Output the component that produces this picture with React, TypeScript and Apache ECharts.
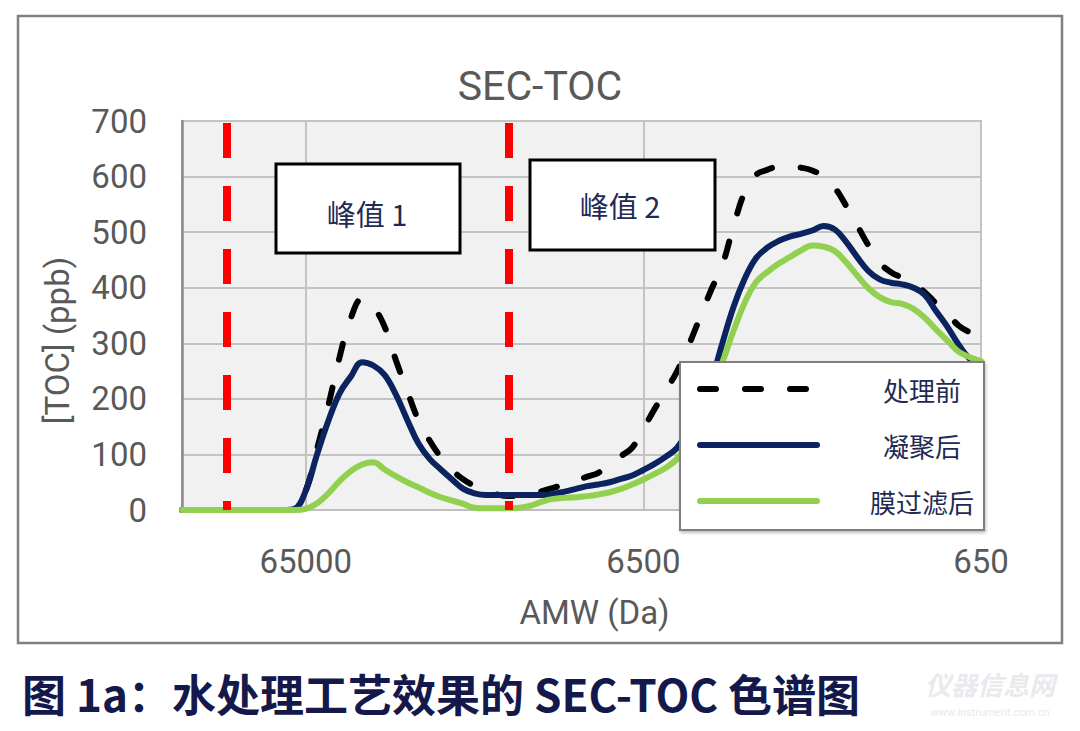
import React, { useEffect, useRef } from 'react';
import * as echarts from 'echarts';

// Apparent molecular weight (Da), ordered as eluted (high -> low)
const amwCategories = [
  151000, 140000, 130000, 120000, 111000, 103000, 95400, 88400, 81800, 75800,
  70200, 65000, 60200, 55800, 51600, 47800, 44300, 41000, 38000, 35200,
  32600, 30200, 27900, 25900, 24000, 22200, 20600, 19000, 17600, 16300,
  15100, 14000, 13000, 12000, 11100, 10300, 9540, 8840, 8180, 7580,
  7020, 6500, 6020, 5580, 5160, 4780, 4430, 4100, 3800, 3520,
  3260, 3020, 2790, 2590, 2400, 2220, 2060, 1900, 1760, 1630,
  1510, 1400, 1300, 1200, 1110, 1030, 954, 884, 818, 758,
  702, 650,
];
const xTickLabels = ['65000', '6500', '650'];
const peakBoundaries = ['111000', '16300'];
const seriesNames = ['处理前', '凝聚后', '膜过滤后'];

const beforeTreatment = [
  0, 0, 0, 0, 0, 0, 0, 0, 0, 0,
  2, 35, 110, 188, 275, 345, 380, 365, 330, 270,
  215, 162, 125, 95, 72, 55, 43, 34, 28, 25,
  25, 28, 34, 40, 46, 53, 60, 67, 83, 97,
  112, 146, 182, 215, 250, 295, 345, 395, 440, 510,
  572, 603, 612, 618, 618, 616, 611, 600, 580, 548,
  512, 476, 445, 428, 418, 408, 392, 372, 354, 332,
  320, 314,
];
const afterCoagulation = [
  0, 0, 0, 0, 0, 0, 0, 0, 0, 0,
  2, 35, 100, 160, 210, 240, 266, 260, 243, 208,
  163, 120, 92, 73, 55, 38, 30, 27, 27, 27,
  27, 27, 27, 29, 33, 38, 43, 46, 50, 56,
  62, 72, 83, 96, 112, 145, 180, 230, 299, 365,
  416, 453, 472, 484, 492, 497, 503, 511, 505, 483,
  455, 430, 415, 409, 406, 400, 387, 358, 330, 298,
  272, 262,
];
const afterMembrane = [
  0, 0, 0, 0, 0, 0, 0, 0, 0, 0,
  0, 2, 12, 30, 52, 70, 82, 86, 73, 61,
  50, 41, 31, 23, 17, 11, 4, 3, 3, 3,
  4, 8, 15, 20, 22, 23, 25, 28, 32, 38,
  46, 55, 65, 76, 92, 120, 165, 220, 265, 322,
  373, 410, 428, 443, 455, 467, 476, 474, 466, 446,
  422, 399, 383, 374, 371, 362, 346, 325, 305, 285,
  275, 268,
];

const NAVY = '#0b2460';
const GREEN = '#92d050';
const TEXT_GRAY = '#595959';
const LABEL_NAVY = '#1f2a55';

export default function App() {
  const ref = useRef<HTMLDivElement>(null);
  useEffect(() => {
    const chart = echarts.init(ref.current as HTMLDivElement, null, { renderer: 'svg' });
    const cats = amwCategories.map(String);
    const showTick = (_i: number, v: string) => xTickLabels.includes(String(v));
    const lineStyles = [
      { color: '#000000', width: 6, type: [16, 29], cap: 'round' },
      { color: NAVY, width: 6, type: 'solid', cap: 'round' },
      { color: GREEN, width: 6, type: 'solid', cap: 'round' },
    ];
    const values = [beforeTreatment, afterCoagulation, afterMembrane];
    const series: any[] = seriesNames.map((name, k) => ({
      name,
      type: 'line',
      data: values[k],
      smooth: 0.4,
      symbol: 'none',
      showSymbol: false,
      lineStyle: lineStyles[k],
      itemStyle: { color: lineStyles[k].color },
      emphasis: { disabled: true },
      z: 2 + k,
    }));
    series[2].markLine = {
      silent: true,
      symbol: ['none', 'none'],
      label: { show: false },
      emphasis: { disabled: true },
      lineStyle: { color: '#ff0000', width: 8, type: [35, 28], dashOffset: 26, cap: 'butt' },
      data: peakBoundaries.map((v) => ({ xAxis: v })),
    };

    const option: any = {
      animation: false,
      backgroundColor: '#ffffff',
      title: {
        text: 'SEC-TOC',
        left: 'center',
        top: 60,
        textStyle: { fontFamily: 'Roboto', fontSize: 41, fontWeight: 'normal', color: TEXT_GRAY },
      },
      grid: {
        left: 182,
        right: 99,
        top: 121,
        bottom: 221,
        show: true,
        backgroundColor: '#f1f1f1',
        borderColor: '#a6a6a6',
        borderWidth: 2,
      },
      legend: {
        orient: 'vertical',
        left: 680,
        top: 362,
        padding: [14, 10, 16, 17],
        itemWidth: 117,
        itemHeight: 20,
        itemGap: 30,
        itemTextGap: 10,
        backgroundColor: '#ffffff',
        borderColor: '#7f7f7f',
        borderWidth: 2,
        shadowColor: 'rgba(0,0,0,0.25)',
        shadowBlur: 3,
        shadowOffsetX: 1,
        shadowOffsetY: 2,
        z: 20,
        selectedMode: false,
        formatter: (name: string) => `{t|${name}}`,
        textStyle: {
          rich: {
            t: {
              width: 200,
              align: 'center',
              fontSize: 26,
              color: LABEL_NAVY,
              fontFamily: 'Noto Sans CJK SC',
            },
          },
        },
        data: seriesNames.map((name, k) => ({
          name,
          itemStyle: { opacity: 0 },
          lineStyle: { ...lineStyles[k], width: 6 },
        })),
      },
      xAxis: {
        type: 'category',
        data: cats,
        boundaryGap: false,
        name: 'AMW (Da)',
        nameLocation: 'middle',
        nameGap: 86,
        nameTextStyle: { fontFamily: 'Roboto', fontSize: 33, color: TEXT_GRAY, padding: [0, 0, 0, 26] },
        axisLine: { lineStyle: { color: '#bfbfbf', width: 2 } },
        axisTick: { show: false },
        axisLabel: { interval: showTick, margin: 35, fontFamily: 'Roboto', fontSize: 33, color: TEXT_GRAY },
        splitLine: { show: true, interval: showTick, lineStyle: { color: '#c3c3c3', width: 2 } },
      },
      yAxis: {
        type: 'value',
        min: 0,
        max: 700,
        interval: 100,
        name: '[TOC] (ppb)',
        nameLocation: 'middle',
        nameRotate: 90,
        nameGap: 108,
        nameTextStyle: { fontFamily: 'Roboto', fontSize: 33, color: TEXT_GRAY, padding: [0, 50, 0, 0] },
        axisLine: { show: true, lineStyle: { color: '#8c8c8c', width: 2.5 } },
        axisTick: { show: false },
        axisLabel: { margin: 35, fontFamily: 'Roboto', fontSize: 33, color: TEXT_GRAY },
        splitLine: { show: true, lineStyle: { color: '#c3c3c3', width: 2 } },
      },
      series,
      graphic: [
        {
          type: 'rect',
          shape: { x: 18, y: 16, width: 1044, height: 627 },
          style: { fill: 'none', stroke: '#808080', lineWidth: 2.5 },
          z: 0,
          silent: true,
        },
        {
          type: 'group',
          z: 30,
          children: [
            {
              type: 'rect',
              shape: { x: 276, y: 164, width: 184, height: 89 },
              style: { fill: '#ffffff', stroke: '#000000', lineWidth: 3 },
              z: 30,
            },
            {
              type: 'text',
              x: 367,
              y: 213,
              style: {
                text: '峰值 1',
                fontFamily: 'Noto Sans CJK SC',
                fontSize: 29,
                fill: LABEL_NAVY,
                align: 'center',
                verticalAlign: 'middle',
              },
              z: 31,
            },
            {
              type: 'rect',
              shape: { x: 530, y: 160, width: 185, height: 90 },
              style: { fill: '#ffffff', stroke: '#000000', lineWidth: 3 },
              z: 30,
            },
            {
              type: 'text',
              x: 620,
              y: 205,
              style: {
                text: '峰值 2',
                fontFamily: 'Noto Sans CJK SC',
                fontSize: 29,
                fill: LABEL_NAVY,
                align: 'center',
                verticalAlign: 'middle',
              },
              z: 31,
            },
          ],
        },
        {
          type: 'text',
          x: 22,
          y: 693,
          style: {
            text: '图 1a：水处理工艺效果的 SEC-TOC 色谱图',
            fontFamily: 'Noto Sans CJK SC',
            fontWeight: 'bold',
            fontSize: 44,
            fill: '#14184a',
            align: 'left',
            verticalAlign: 'middle',
          },
        },
        {
          type: 'text',
          x: 990,
          y: 683,
          style: {
            text: '仪器信息网',
            fontFamily: 'Noto Sans CJK SC',
            fontWeight: 'bold',
            fontStyle: 'italic',
            fontSize: 26,
            fill: '#e9eaee',
            align: 'center',
            verticalAlign: 'middle',
          },
        },
        {
          type: 'text',
          x: 990,
          y: 712,
          style: {
            text: 'www.instrument.com.cn',
            fontFamily: 'Roboto',
            fontSize: 11,
            fill: '#e9eaee',
            align: 'center',
            verticalAlign: 'middle',
          },
        },
      ],
    };
    chart.setOption(option);
    return () => chart.dispose();
  }, []);
  return (
    <div
      ref={ref}
      style={{ position: 'fixed', left: 0, top: 0, width: 1080, height: 731, background: '#ffffff' }}
    />
  );
}
